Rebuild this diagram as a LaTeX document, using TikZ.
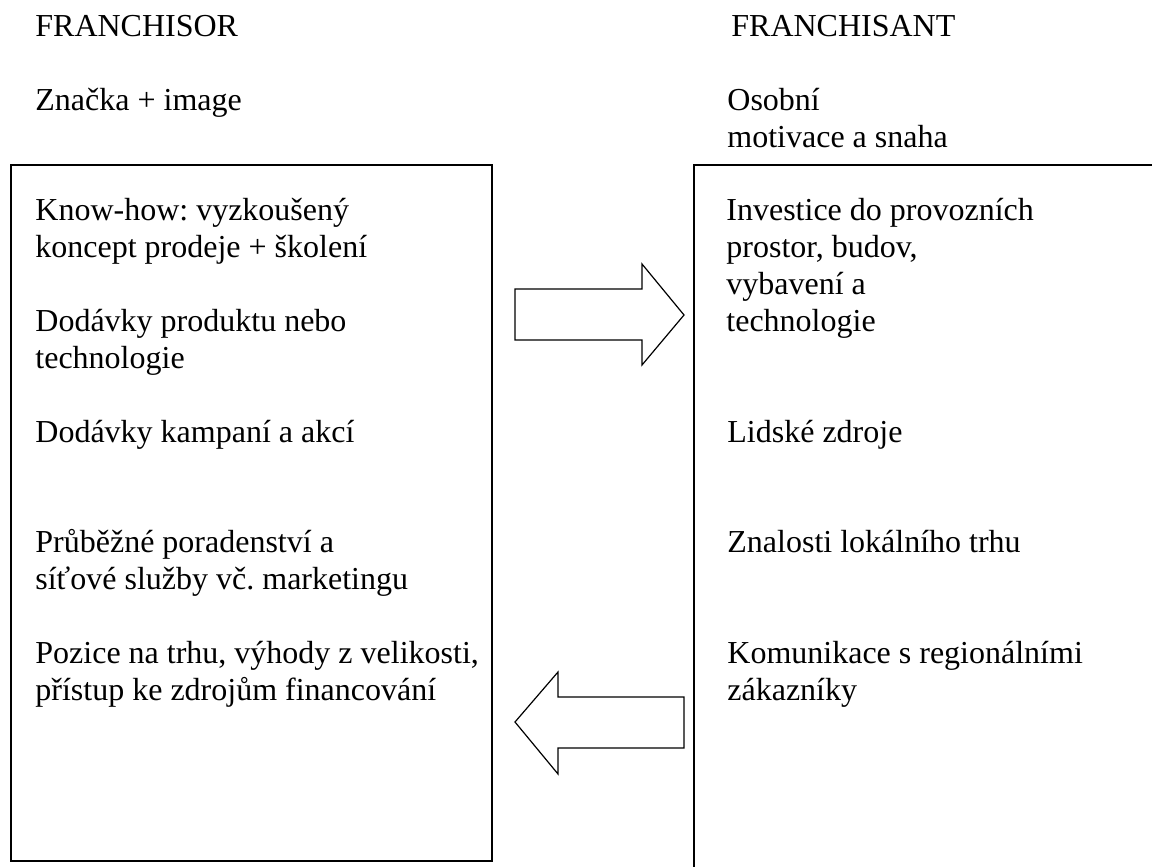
\documentclass[tikz,border=0pt]{standalone}
\usepackage{fontspec}
\setmainfont{Liberation Serif}
\usepackage{tikz}
\frenchspacing
\tikzset{
	txt/.style={anchor=north west, inner sep=0pt, align=left, font=\fontsize{16}{18.5}\selectfont},
	frame/.style={line width=0.8pt},
	blockarrow/.style={line width=0.6pt, line join=miter},
}

\begin{document}
\begin{tikzpicture}[x=0.5pt, y=-0.5pt]
	%%%%% START %%%%%
	\fill[white] (0, 0) rectangle (1152, 867);
	\useasboundingbox (0, 0) rectangle (1152, 867);
	
	% headings
	\node[txt] (franchisor) at (35, 10) {\strut FRANCHISOR};
	\node[txt] (franchisant) at (731, 10) {\strut FRANCHISANT};
	\node[txt] (znacka) at (35, 84) {\strut Značka + image};
	\node[txt] (osobni) at (727, 84) {\strut Osobní\\motivace a snaha};
	
	% boxes
	\draw[frame] (11, 165) rectangle (492, 861);
	\draw[frame] (694, 880) -- (694, 165) -- (1170, 165);
	
	% franchisor side
	\node[txt] (knowhow) at (35, 194) {\strut Know-how: vyzkoušený\\koncept prodeje + školení};
	\node[txt] (produkt) at (35, 305) {\strut Dodávky produktu nebo\\technologie};
	\node[txt] (kampane) at (35, 416) {\strut Dodávky kampaní a akcí};
	\node[txt] (poradenstvi) at (35, 526) {\strut Průběžné poradenství a\\síťové služby vč. marketingu};
	\node[txt] (pozice) at (35, 637) {\strut Pozice na trhu, výhody z velikosti,\\přístup ke zdrojům financování};
	
	% franchisant side
	\node[txt] (investice) at (726, 194) {\strut Investice do provozních\\prostor, budov,\\vybavení a\\technologie};
	\node[txt] (zdroje) at (727, 416) {\strut Lidské zdroje};
	\node[txt] (znalosti) at (727, 526) {\strut Znalosti lokálního trhu};
	\node[txt] (komunikace) at (727, 637) {\strut Komunikace s regionálními\\zákazníky};
	
	% arrows
	\draw[blockarrow] (515, 289) -- (642, 289) -- (642, 264) -- (684, 315) -- (642, 365) -- (642, 340) -- (515, 340) -- cycle;
	\draw[blockarrow] (684, 697) -- (558, 697) -- (558, 672) -- (515, 722) -- (558, 774) -- (558, 748) -- (684, 748) -- cycle;
	%%%%% END %%%%%
\end{tikzpicture}
\end{document}
